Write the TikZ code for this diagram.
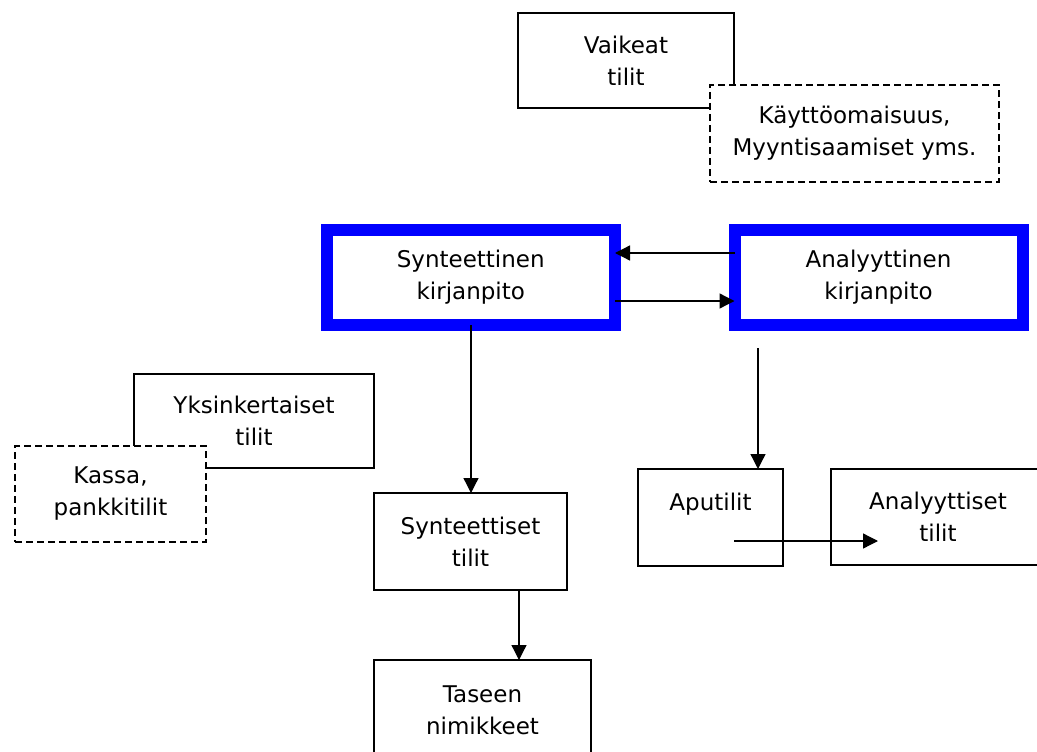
\documentclass[tikz,border=0pt]{standalone}
\usepackage{fontspec}
\setmainfont{DejaVu Sans}
\usetikzlibrary{arrows.meta}
\definecolor{boxblue}{RGB}{0,0,255}
\begin{document}
\begin{tikzpicture}[x=1pt,y=-1pt,
  every node/.style={font=\fontsize{23}{32}\selectfont, align=center, inner sep=0pt, outer sep=0pt},
  plainbox/.style={draw=black, line width=1.3pt, fill=white},
  dashbox/.style={draw=black, line width=1.3pt, fill=white, dash pattern=on 7pt off 4pt},
  bluebox/.style={draw=boxblue, line width=12pt, fill=white},
  arr/.style={draw=black, line width=1.3pt, -{Triangle[length=15pt,width=15pt]}}]
\useasboundingbox (0,0) rectangle (1037,752);
% top group
\node[plainbox, minimum width=216pt, minimum height=95pt] (vt) at (626,60.5) {Vaikeat\\tilit};
\node[dashbox, minimum width=289pt, minimum height=97pt] (km) at (854.5,133.5) {Käyttöomaisuus,\\Myyntisaamiset yms.};
% main boxes
\node[bluebox, minimum width=288.5pt, minimum height=95pt] (syn) at (470.75,277.5) {Synteettinen\\kirjanpito};
\node[bluebox, minimum width=288pt, minimum height=95pt] (ana) at (878.5,277.5) {Analyyttinen\\kirjanpito};
% left group
\node[plainbox, minimum width=240pt, minimum height=94pt] (yk) at (254,421) {Yksinkertaiset\\tilit};
\node[dashbox, minimum width=191pt, minimum height=96pt] (ka) at (110.5,494) {Kassa,\\pankkitilit};
% lower boxes
\node[plainbox, minimum width=193pt, minimum height=97pt] (st) at (470.5,541.5) {Synteettiset\\tilit};
\node[plainbox, minimum width=217pt, minimum height=100pt] (tn) at (482.5,710) {Taseen\\nimikkeet};
\node[plainbox, minimum width=145pt, minimum height=97pt] (ap) at (710.5,517.5) {Aputilit\\\mbox{}};
\node[plainbox, minimum width=214pt, minimum height=96pt] (at) at (938,517) {Analyyttiset\\tilit};
% coordinates
\coordinate (yTop) at (0,253);
\coordinate (yBot) at (0,301);
\coordinate (xSyn) at (471,0);
\coordinate (xSt) at (519,0);
\coordinate (anaStart) at (758,348);
\coordinate (apStart) at (734,541);
\coordinate (atEnd) at (878,541);
% connectors
\draw[arr] (ana.west |- yTop) -- (syn.east |- yTop);
\draw[arr] (syn.east |- yBot) -- (ana.west |- yBot);
\draw[arr] (syn.south -| xSyn) -- (st.north -| xSyn);
\draw[arr] (st.south -| xSt) -- (tn.north -| xSt);
\draw[arr] (anaStart) -- (ap.north -| anaStart);
\draw[arr] (apStart) -- (atEnd);
\end{tikzpicture}
\end{document}
